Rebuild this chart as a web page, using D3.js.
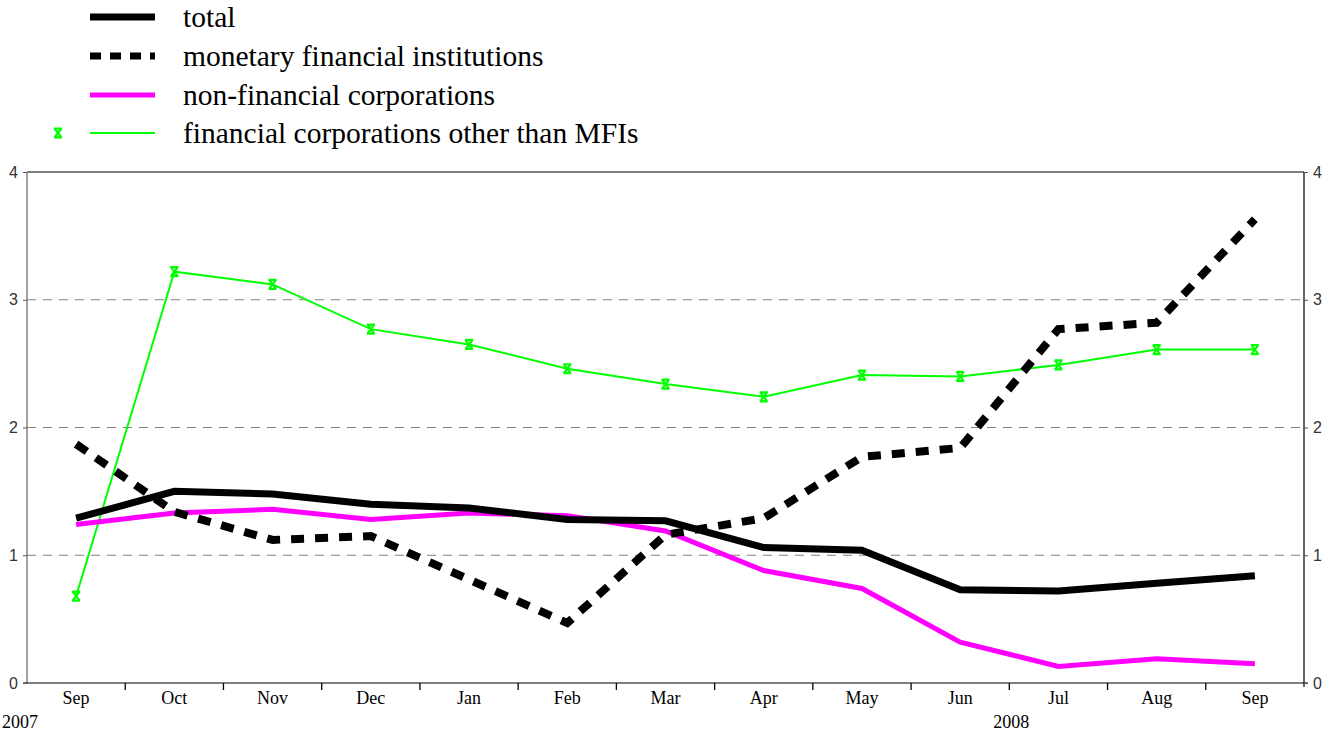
<!DOCTYPE html>
<html><head><meta charset="utf-8">
<script src="https://cdn.jsdelivr.net/npm/d3@7"></script>
<style>body{margin:0;background:#fff}svg{display:block}
.serif{font-family:"Liberation Serif","Times New Roman",Times,serif}
.sans{font-family:"Liberation Sans",Arial,sans-serif}
</style>
</head><body><svg id="c" width="1337" height="731"></svg>
<script>
const months = ["Sep","Oct","Nov","Dec","Jan","Feb","Mar","Apr","May","Jun","Jul","Aug","Sep"];
const yTicks = [0,1,2,3,4];
const total = [1.29,1.50,1.48,1.40,1.37,1.28,1.27,1.06,1.04,0.73,0.72,0.78,0.84];
const mfi = [1.87,1.34,1.12,1.15,0.81,0.47,1.16,1.29,1.77,1.84,2.77,2.82,3.63];
const nfc = [1.24,1.33,1.36,1.28,1.33,1.31,1.19,0.88,0.74,0.32,0.13,0.19,0.15];
const ofi = [0.68,3.22,3.12,2.77,2.65,2.46,2.34,2.24,2.41,2.40,2.49,2.61,2.61];
const legendLabels = ["total","monetary financial institutions","non-financial corporations","financial corporations other than MFIs"];

const svg = d3.select("#c");
const L=27, R=1304, T=172, B=683;
const idx = d3.range(months.length);
const x = d3.scaleBand().domain(idx).range([L,R]);
const xc = i => x(i) + x.bandwidth()/2;
const y = d3.scaleLinear().domain([0,4]).range([B,T]);

// grid
svg.append("g").selectAll("line").data(yTicks.filter(d=>d>0&&d<4)).join("line")
  .attr("x1",L).attr("x2",R).attr("y1",d=>y(d)).attr("y2",d=>y(d))
  .attr("stroke","#808080").attr("stroke-width",1.2).attr("stroke-dasharray","9,7");

// frame
svg.append("line").attr("x1",L).attr("x2",R).attr("y1",T).attr("y2",T).attr("stroke","#000").attr("stroke-width",1.2);
svg.append("line").attr("x1",L).attr("x2",L).attr("y1",T).attr("y2",B).attr("stroke","#808080").attr("stroke-width",1.5);
svg.append("line").attr("x1",R).attr("x2",R).attr("y1",T).attr("y2",B+4).attr("stroke","#000").attr("stroke-width",1.2);
svg.append("line").attr("x1",L-4).attr("x2",R+4).attr("y1",B).attr("y2",B).attr("stroke","#000").attr("stroke-width",1.2);

// y axes
const yl = svg.append("g").attr("transform",`translate(${L},0)`)
  .call(d3.axisLeft(y).tickValues(yTicks).tickSize(4).tickFormat(d3.format("d")));
const yr = svg.append("g").attr("transform",`translate(${R},0)`)
  .call(d3.axisRight(y).tickValues(yTicks).tickSize(4).tickFormat(d3.format("d")));
[yl,yr].forEach(g=>{
  g.select(".domain").remove();
  g.attr("font-family",null).attr("font-size",null);
  g.selectAll("text").attr("class","sans").style("font-size","16px").attr("fill","#333");
  g.selectAll("line").attr("stroke","#555");
});
yl.selectAll("text").attr("dx",-2);
yr.selectAll("text").attr("dx",2);

// x axis ticks at band boundaries
svg.append("g").selectAll("line").data(d3.range(1,months.length)).join("line")
  .attr("x1",i=>x(i)).attr("x2",i=>x(i)).attr("y1",B).attr("y2",B+7)
  .attr("stroke","#000").attr("stroke-width",1.3);
svg.append("g").selectAll("text").data(idx).join("text")
  .attr("x",i=>xc(i)).attr("y",B+21).attr("text-anchor","middle")
  .attr("class","serif").style("font-size","18px").text(i=>months[i]);
svg.append("text").attr("x",2).attr("y",B+45).attr("class","serif").style("font-size","18px").text("2007");
svg.append("text").attr("x",x(10)+2).attr("y",B+45).attr("text-anchor","middle").attr("class","serif").style("font-size","18px").text("2008");

const line = d3.line().x((d,i)=>xc(i)).y(d=>y(d));
svg.append("path").attr("d",line(ofi)).attr("fill","none").attr("stroke","#00ff00").attr("stroke-width",2);
svg.append("path").attr("d",line(nfc)).attr("fill","none").attr("stroke","#ff00ff").attr("stroke-width",5);
svg.append("path").attr("d",line(total)).attr("fill","none").attr("stroke","#000").attr("stroke-width",7);
svg.append("path").attr("d",line(mfi)).attr("fill","none").attr("stroke","#000").attr("stroke-width",8).attr("stroke-dasharray","13,11");

function marker(g,cx,cy){
  const s=3.5;
  g.append("path").attr("d",`M${cx-s},${cy-s-1}L${cx+s},${cy+s+1}M${cx+s},${cy-s-1}L${cx-s},${cy+s+1}M${cx-s-0.5},${cy-s-1}L${cx+s+0.5},${cy-s-1}M${cx-s-0.5},${cy+s+1}L${cx+s+0.5},${cy+s+1}`)
   .attr("stroke","#00ff00").attr("stroke-width",2.2).attr("fill","none");
}
const mg = svg.append("g");
ofi.forEach((d,i)=>marker(mg,xc(i),y(d)));

// legend
const ly = [17,56,95,133];
const lg = svg.append("g");
legendLabels.forEach((t,i)=>{
  const l = lg.append("line").attr("x1",90).attr("x2",155).attr("y1",ly[i]).attr("y2",ly[i]);
  if(i===0) l.attr("stroke","#000").attr("stroke-width",7);
  if(i===1) l.attr("stroke","#000").attr("stroke-width",7).attr("stroke-dasharray","11,9");
  if(i===2) l.attr("stroke","#ff00ff").attr("stroke-width",5);
  if(i===3) l.attr("stroke","#00ff00").attr("stroke-width",2);
  lg.append("text").attr("x",183).attr("y",ly[i]+10).attr("class","serif").style("font-size","29.5px").text(t);
});
marker(lg,58,133);
</script></body></html>
